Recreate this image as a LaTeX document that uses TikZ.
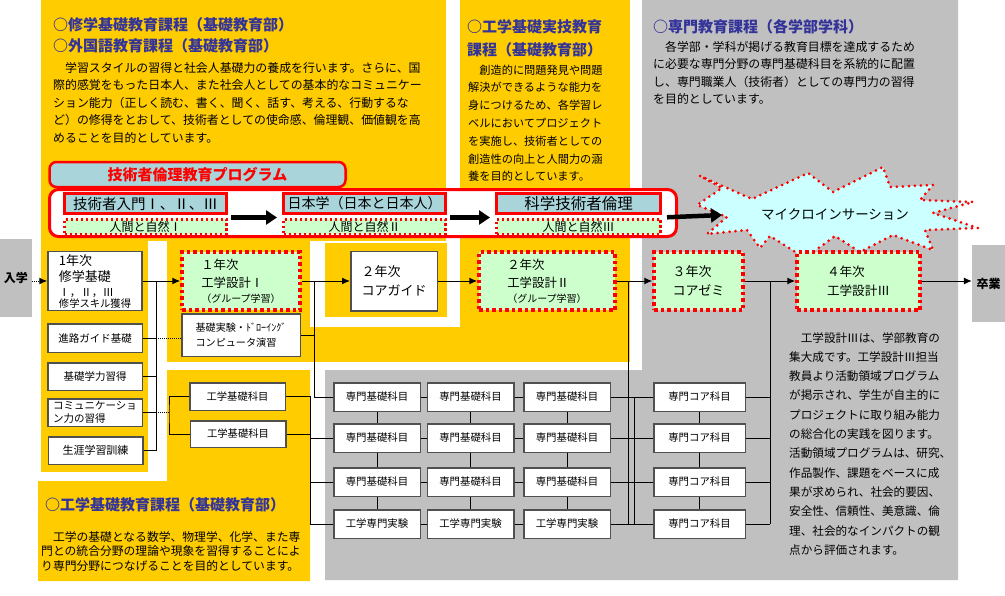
\documentclass[tikz,border=0pt]{standalone}
\usepackage{fontspec}
\setmainfont{Noto Sans CJK JP}
\usetikzlibrary{arrows.meta}

\definecolor{crsOrange}{HTML}{FFCC00}
\definecolor{crsGray}{HTML}{C0C0C0}
\definecolor{crsGreen}{HTML}{CCFFCC}
\definecolor{crsCyan}{HTML}{A9D5DA}
\definecolor{crsBurst}{HTML}{CCFFFF}
\definecolor{crsBlue}{HTML}{333399}
\definecolor{crsFrame}{HTML}{505050}

\newcommand{\jfs}[2]{\fontsize{#1}{#2}\selectfont}

\begin{document}
\begin{tikzpicture}[x=1pt,y=-1pt,font=\jfs{11.9}{17.5},
  whitebox/.style={draw=crsFrame,line width=1.5pt,fill=white,inner sep=0pt,align=left,font=\jfs{10.5}{13}},
  yearbox/.style={draw=red,line width=3.5pt,dash pattern=on 3.5pt off 3pt,fill=crsGreen,inner sep=0pt,align=left,font=\jfs{12.4}{18}},
  ethbox/.style={draw=red,line width=3pt,fill=crsCyan,inner sep=0pt,minimum width=162pt,minimum height=20pt,font=\jfs{14.5}{16}},
  natbox/.style={draw=red,line width=2.5pt,dash pattern=on 2.5pt off 2.5pt,fill=crsGreen,inner sep=0pt,minimum width=162pt,minimum height=14.5pt,font=\jfs{12}{13}},
  subj/.style={whitebox,minimum width=86.5pt,minimum height=28.5pt,font=\jfs{10.4}{12}},
  gatebox/.style={fill=crsGray,inner sep=0pt,font=\jfs{12}{14}\bfseries},
  flow/.style={-{Latex[length=8pt,width=7pt]},line width=1pt},
  link/.style={line width=1pt},
  bigarrow/.style={-{Triangle[length=11pt,width=14pt]},line width=4.5pt},
  para/.style={anchor=north west,inner sep=0pt,align=left},
  head/.style={anchor=north west,inner sep=0pt,align=left,text=crsBlue,font=\jfs{15}{21}\bfseries}]
  \useasboundingbox (0,0) rectangle (1005,595);

  % areas
  \fill[crsOrange] (41,0) rectangle (446,241);
  \fill[crsOrange] (460,0) rectangle (630,362);
  \fill[crsOrange] (41,241) rectangle (148,472);
  \fill[crsOrange] (167,241) rectangle (310,362);
  \fill[crsOrange] (325,243) rectangle (447,317);
  \fill[crsOrange] (167,327) rectangle (630,362);
  \fill[crsOrange] (167,370) -- (310,370) -- (310,581) -- (38,581) -- (38,481) -- (167,481) -- cycle;
  \fill[crsGray] (642,0) -- (958,0) -- (958,580) -- (325,580) -- (325,370) -- (642,370) -- cycle;

  % texts
  \node[head] (hdA) at (53,17.5) {○修学基礎教育課程（基礎教育部）\\○外国語教育課程（基礎教育部）};
  \node[para,font=\jfs{11.9}{17.5}] (txA) at (53,62) {　学習スタイルの習得と社会人基礎力の養成を行います。さらに、国\\際的感覚をもった日本人、また社会人としての基本的なコミュニケー\\ション能力（正しく読む、書く、聞く、話す、考える、行動するな\\ど）の修得をとおして、技術者としての使命感、倫理観、価値観を高\\めることを目的としています。};
  \node[head,font=\jfs{15}{23}\bfseries] (hdB) at (467,19.5) {○工学基礎実技教育\\課程（基礎教育部）};
  \node[para,font=\jfs{11.2}{17.8}] (txB) at (468,64.4) {　創造的に問題発見や問題\\解決ができるような能力を\\身につけるため、各学習レ\\ベルにおいてプロジェクト\\を実施し、技術者としての\\創造性の向上と人間力の涵\\養を目的としています。};
  \node[head] (hdC) at (653,19.5) {○専門教育課程（各学部学科）};
  \node[para,font=\jfs{11.9}{17.4}] (txC) at (653,41) {　各学部・学科が掲げる教育目標を達成するため\\に必要な専門分野の専門基礎科目を系統的に配置\\し、専門職業人（技術者）としての専門力の習得\\を目的としています。};
  \node[para,font=\jfs{11.6}{19.3}] (txD) at (789,332) {　工学設計Ⅲは、学部教育の\\集大成です。工学設計Ⅲ担当\\教員より活動領域プログラム\\が掲示され、学生が自主的に\\プロジェクトに取り組み能力\\の総合化の実践を図ります。\\活動領域プログラムは、研究、\\作品製作、課題をベースに成\\果が求められ、社会的要因、\\安全性、信頼性、美意識、倫\\理、社会的なインパクトの観\\点から評価されます。};
  \node[head] (hdE) at (45,497.5) {○工学基礎教育課程（基礎教育部）};
  \node[para,font=\jfs{11.8}{14.8}] (txE) at (41,531) {　工学の基礎となる数学、物理学、化学、また専\\門との統合分野の理論や現象を習得することによ\\り専門分野につなげることを目的としています。};

  % ethics programme
  \node[draw=red,line width=3pt,fill=white,rounded corners=9pt,minimum width=627pt,minimum height=47pt,inner sep=0pt] (band) at (363,213) {};
  \node[draw=red,line width=2.5pt,fill=crsCyan,rounded corners=7pt,minimum width=296pt,minimum height=25pt,inner sep=0pt,text=red,font=\jfs{15}{16}\bfseries] (ethTitle) at (197.5,174.5) {技術者倫理教育プログラム};
  \node[ethbox] (ethA1) at (145.5,203.5) {技術者入門Ⅰ、Ⅱ、Ⅲ};
  \node[natbox] (nat1) at (145.5,226.5) {人間と自然Ⅰ};
  \node[ethbox,font=\jfs{14}{16}] (ethA2) at (364.5,203.5) {日本学（日本と日本人）};
  \node[natbox] (nat2) at (364.5,226.5) {人間と自然Ⅱ};
  \node[ethbox,minimum width=164pt,font=\jfs{15.5}{16}] (ethA3) at (578.5,203.5) {科学技術者倫理};
  \node[natbox,minimum width=164pt] (nat3) at (578.5,226.5) {人間と自然Ⅲ};

  \path[fill=crsBurst,draw=red,line width=3pt,line cap=round,dash pattern=on 0pt off 6pt]
    (700,176) -- (752,199) -- (808,173) -- (833,192) -- (883,167) -- (890,187) -- (933,185) -- (920,200)
    -- (973,202) -- (933,213) -- (978,228) -- (925,230) -- (933,250) -- (893,235) -- (860,252) -- (835,236)
    -- (805,258) -- (770,236) -- (760,248) -- (747,230) -- (707,234) -- (727,217) -- (697,205) -- (722,188) -- cycle;
  \node[font=\jfs{13.5}{15}] (mi) at (835,214) {マイクロインサーション};
  \coordinate (miIn) at (722,215);

  \draw[bigarrow,shorten <=3pt,shorten >=5pt] ([yshift=-2.5pt]ethA1.south east) -- ([yshift=-2.5pt]ethA2.south west);
  \draw[bigarrow,shorten <=3pt,shorten >=5pt] ([yshift=-2.5pt]ethA2.south east) -- ([yshift=-2.5pt]ethA3.south west);
  \draw[bigarrow,shorten <=5pt] ([yshift=-2.5pt]ethA3.south east) -- (miIn);

  % year line
  \node[gatebox,minimum width=32pt,minimum height=78pt] (nyu) at (16,278) {入学};
  \node[gatebox,minimum width=33pt,minimum height=77pt] (sotsu) at (988.5,283.5) {卒業};
  \node[whitebox,minimum width=94pt,minimum height=59pt,font=\jfs{13}{16}] (s1) at (95,281) {1年次\\修学基礎\\[-1pt]{\jfs{11}{12}Ⅰ，Ⅱ，Ⅲ}\\[-5pt]{\jfs{10.3}{11}修学スキル獲得}};
  \node[yearbox,minimum width=118pt,minimum height=58pt] (d1) at (241,281) {１年次\\工学設計Ⅰ\\[-3pt]{\jfs{10}{11}（グループ学習）}};
  \node[whitebox,minimum width=86.5pt,minimum height=59.5pt,font=\jfs{13}{19}] (cg) at (394,281) {２年次\\コアガイド};
  \node[yearbox,minimum width=136pt,minimum height=58pt] (d2) at (547,281) {２年次\\工学設計Ⅱ\\[-3pt]{\jfs{10}{11}（グループ学習）}};
  \node[yearbox,minimum width=89pt,minimum height=58pt,font=\jfs{13}{19}] (cz) at (698.5,281) {３年次\\コアゼミ};
  \node[yearbox,minimum width=123pt,minimum height=58pt,font=\jfs{12.6}{19}] (d3) at (858.5,281) {４年次\\工学設計Ⅲ};

  \draw[flow,densely dotted] (nyu.east |- s1.west) -- (s1.west);
  \draw[flow] (s1.east) -- (d1.west);
  \draw[flow] (d1.east) -- (cg.west);
  \draw[flow] (cg.east) -- (d2.west);
  \draw[flow] (d2.east) -- (cz.west);
  \draw[flow] (cz.east) -- (d3.west);
  \draw[flow] (d3.east) -- (d3.east -| sotsu.west);

  % first year subjects
  \node[whitebox,minimum width=94.5pt,minimum height=28.5pt] (g1) at (95,338) {進路ガイド基礎};
  \node[whitebox,minimum width=94.5pt,minimum height=27.5pt] (g2) at (95,376.5) {基礎学力習得};
  \node[whitebox,minimum width=94.5pt,minimum height=27.5pt] (g3) at (95,412.5) {コミュニケーショ\\ン力の習得};
  \node[whitebox,minimum width=94.5pt,minimum height=27.5pt,font=\jfs{11}{13}] (g4) at (95.5,450.5) {生涯学習訓練};
  \node[whitebox,minimum width=118.5pt,minimum height=42.5pt,font=\jfs{10.1}{15}] (kj) at (241,335) {基礎実験・ﾄﾞﾛｰｲﾝｸﾞ\\コンピュータ演習};
  \node[whitebox,minimum width=95.5pt,minimum height=27.5pt,font=\jfs{10.3}{12}] (kk1) at (237.5,396.5) {工学基礎科目};
  \node[whitebox,minimum width=95.5pt,minimum height=26.5pt,font=\jfs{10.3}{12}] (kk2) at (238,434) {工学基礎科目};

  % specialised subjects
  \foreach \cx/\cn in {377/a,470.5/b,567/c} {
    \foreach \ry/\rn in {397/1,438/2,482/3}
      \node[subj] (\cn\rn) at (\cx,\ry) {専門基礎科目};
    \node[subj] (\cn4) at (\cx,524) {工学専門実験};
  }
  \foreach \ry/\rn in {397/1,438/2,482/3,524/4}
    \node[subj,minimum width=91.5pt] (core\rn) at (699.5,\ry) {専門コア科目};

  % connectors
  \coordinate (t0) at (156,281);
  \coordinate (t1) at (314,281);
  \coordinate (t2) at (628,281);
  \coordinate (t3) at (770,281);
  \coordinate (busL) at (310,396.5);
  \coordinate (busR) at (634,397);
  \coordinate (br) at (169,412.5);

  \draw[link] (t0) -- (t0 |- g4.east);
  \foreach \g in {g1,g2,g3,g4}
    \draw[link] (\g.east) -- (\g.east -| t0);
  \draw[link,densely dotted] (g1.east -| t0) -- (g1.east -| kj.west);
  \draw[link,densely dotted] (g3.east -| t0) -- (br);
  \draw[link] (kk1.west) -| (br) |- (kk2.west);
  \draw[link] (kj.east) -- (kj.east -| t1);
  \draw[link] (t1) |- (a1.west);
  \draw[link] (kk1.east) -| (busL |- a4.west) -- (a4.west);
  \draw[link] (kk2.east) -- (kk2.east -| busL);
  \foreach \r in {2,3}
    \draw[link] (a\r.west -| busL) -- (a\r.west);

  \foreach \r in {1,...,4} {
    \draw[link] (a\r) -- (b\r);
    \draw[link] (b\r) -- (c\r);
    \draw[link] (c\r) -- (core\r);
    \draw[link] (core\r.east) -- (core\r.east -| t3);
  }
  \foreach \cn in {a,b,c,core}
    \foreach \r/\s in {1/2,2/3,3/4}
      \draw[link] (\cn\r) -- (\cn\s);
  \draw[link] (t2) -- (t2 |- core4.west);
  \draw[link] (busR) -- (busR |- core4.west);
  \draw[link] (t3) -- (t3 |- core4.east);
\end{tikzpicture}
\end{document}
